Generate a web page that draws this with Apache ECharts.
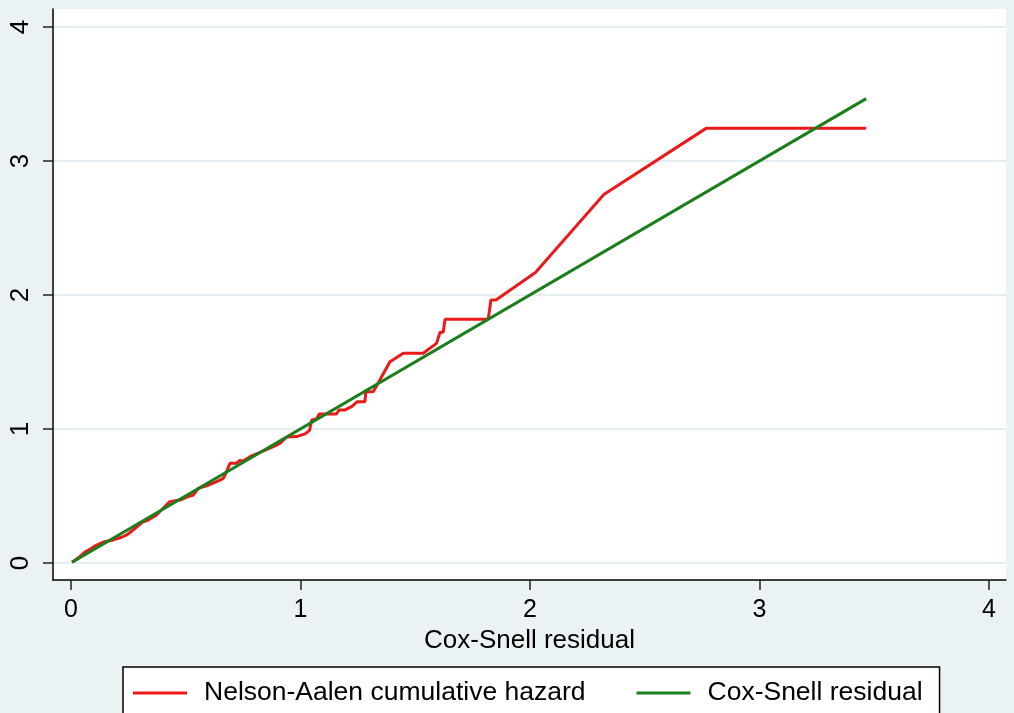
<!DOCTYPE html>
<html>
<head>
<meta charset="utf-8">
<script src="https://cdn.jsdelivr.net/npm/echarts@6/dist/echarts.min.js"></script>
<style>
  body { margin: 0; background: #eaf2f3; }
  #chart { width: 1014px; height: 713px; }
</style>
</head>
<body>
<div id="chart"></div>
<script>
// Nelson-Aalen cumulative hazard of the Cox-Snell residuals
var naX = [0.005, 0.039, 0.06, 0.09, 0.112, 0.141, 0.184, 0.221, 0.243, 0.271, 0.315, 0.337, 0.373,
  0.402, 0.431, 0.475, 0.511, 0.533, 0.555, 0.591, 0.635, 0.664, 0.678, 0.693, 0.72, 0.736, 0.75,
  0.78, 0.824, 0.882, 0.911, 0.94, 0.983, 1.02, 1.04, 1.049, 1.07, 1.082, 1.157, 1.169, 1.194,
  1.223, 1.248, 1.281, 1.285, 1.317, 1.346, 1.39, 1.448, 1.535, 1.593, 1.608, 1.622, 1.63, 1.818,
  1.83, 1.852, 2.024, 2.322, 2.769, 3.465];
var naY = [0.005, 0.047, 0.08, 0.11, 0.134, 0.156, 0.172, 0.192, 0.209, 0.246, 0.308, 0.321, 0.358,
  0.408, 0.458, 0.47, 0.495, 0.507, 0.557, 0.575, 0.607, 0.632, 0.681, 0.744, 0.745, 0.764, 0.76,
  0.793, 0.826, 0.868, 0.893, 0.94, 0.943, 0.963, 0.99, 1.067, 1.075, 1.112, 1.112, 1.142, 1.142,
  1.167, 1.204, 1.204, 1.278, 1.278, 1.366, 1.502, 1.565, 1.565, 1.639, 1.721, 1.721, 1.818, 1.818,
  1.963, 1.963, 2.167, 2.75, 3.245, 3.245];
// reference line: Cox-Snell residual against itself
var csX = [0.005, 3.465];
var csY = [0.005, 3.465];
var tickValues = [0, 1, 2, 3, 4];

function pairs(xs, ys) {
  return xs.map(function (x, i) { return [x, ys[i]]; });
}

var font = "'Liberation Sans', Arial, sans-serif";
var myChart = echarts.init(document.getElementById("chart"));
myChart.setOption({
  backgroundColor: "#eaf2f3",
  animation: false,
  textStyle: { fontFamily: font },
  grid: {
    left: 53,
    right: 8,
    top: 9,
    bottom: 133,
    show: true,
    backgroundColor: "#ffffff",
    borderWidth: 0
  },
  xAxis: {
    type: "value",
    min: -0.078,
    max: 4.074,
    name: "Cox-Snell residual",
    nameLocation: "middle",
    nameGap: 35,
    nameTextStyle: { fontSize: 26, color: "#000", fontFamily: font },
    axisLine: { onZero: false, lineStyle: { color: "#000", width: 1.5 } },
    axisTick: { customValues: tickValues, length: 10, lineStyle: { color: "#222", width: 1.5 } },
    axisLabel: { customValues: tickValues, margin: 18, fontSize: 25, color: "#000", fontFamily: font },
    splitLine: { show: false }
  },
  yAxis: {
    type: "value",
    min: -0.127,
    max: 4.134,
    axisLine: { show: true, onZero: false, lineStyle: { color: "#000", width: 1.5 } },
    axisTick: { show: true, customValues: tickValues, length: 10, lineStyle: { color: "#222", width: 1.5 } },
    axisLabel: { customValues: tickValues, rotate: 90, margin: 19, fontSize: 26, color: "#000", fontFamily: font },
    splitLine: { show: true, lineStyle: { color: "#e4edef", width: 2 } }
  },
  legend: {
    left: 123,
    top: 667,
    padding: [12, 17, 30, 10],
    itemGap: 51,
    itemWidth: 54,
    itemHeight: 3,
    backgroundColor: "#ffffff",
    borderColor: "#000",
    borderWidth: 1.5,
    borderRadius: 0,
    textStyle: { fontSize: 26.5, color: "#000", fontFamily: font, lineHeight: 28, padding: [0, 0, 0, 12] },
    data: [
      { name: "Nelson-Aalen cumulative hazard", icon: "rect" },
      { name: "Cox-Snell residual", icon: "rect" }
    ]
  },
  series: [
    {
      name: "Nelson-Aalen cumulative hazard",
      type: "line",
      data: pairs(naX, naY),
      showSymbol: false,
      itemStyle: { color: "#ea1a1a" },
      lineStyle: { color: "#ea1a1a", width: 3 },
      z: 3
    },
    {
      name: "Cox-Snell residual",
      type: "line",
      data: pairs(csX, csY),
      showSymbol: false,
      itemStyle: { color: "#1a7f1a" },
      lineStyle: { color: "#1a7f1a", width: 3 },
      z: 4
    }
  ]
});
</script>
</body>
</html>
